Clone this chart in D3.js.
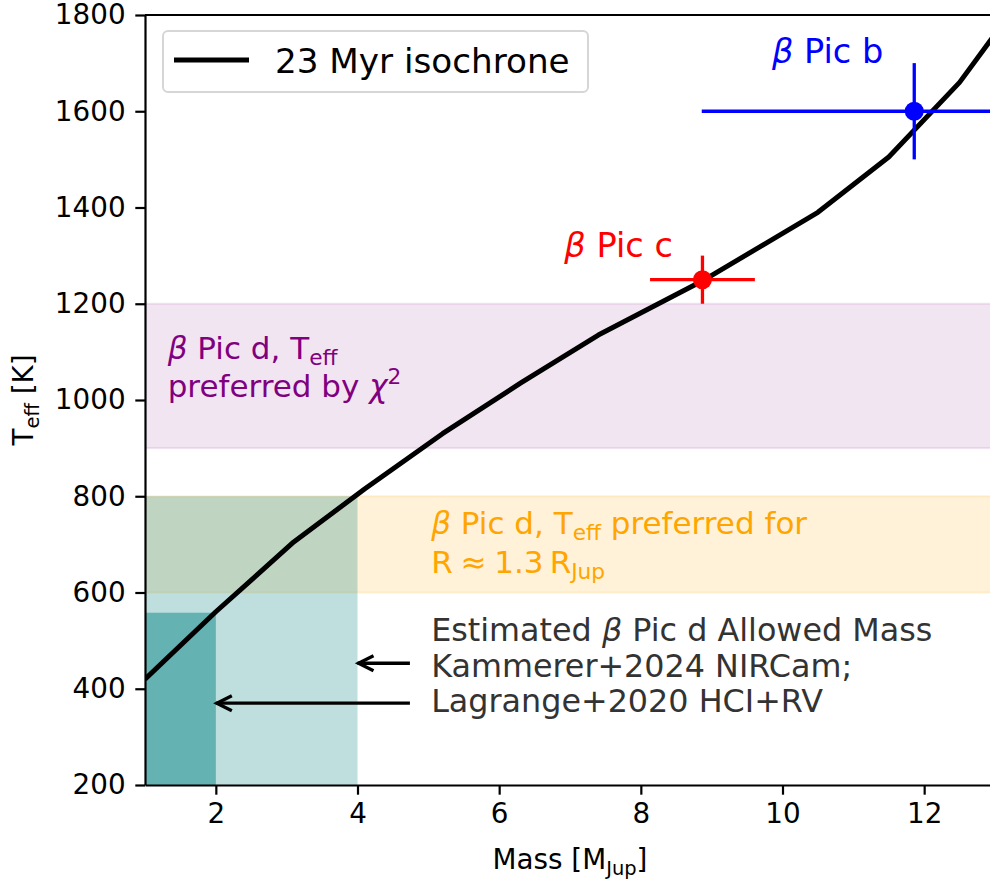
<!DOCTYPE html>
<html>
<head>
<meta charset="utf-8">
<script src="https://cdn.jsdelivr.net/npm/d3@7"></script>
<style>
  body { margin: 0; background: #fff; }
  svg { display: block; font-family: "DejaVu Sans", sans-serif; }
  text { white-space: pre; }
</style>
</head>
<body>
<script>
// 23 Myr isochrone
let isoMass = [1.0, 2.0, 3.1, 4.1, 5.2, 6.3, 7.4, 8.9, 10.5, 11.5, 12.5, 13.0];
let isoTeff = [420, 560, 705, 815, 930, 1035, 1135, 1250, 1390, 1505, 1660, 1760];

// planets
let planetNames = ['c', 'b'];
let planetMass = [8.87, 11.86];
let planetMassErr = [0.74, 3.0];
let planetTeff = [1250, 1600];
let planetTeffErr = [50, 100];
let planetColors = ['red', 'blue'];

// Teff bands for beta Pic d
let chi2Band = [900, 1200];
let radiusBand = [600, 800];

// allowed mass boxes: [upper mass, upper Teff]
let boxNircam = [4, 800];
let boxHci = [2, 558];

let xTicks = [2, 4, 6, 8, 10, 12];
let yTicks = [200, 400, 600, 800, 1000, 1200, 1400, 1600, 1800];

let margin = {left: 145, top: 15, right: -5, bottom: 95};
let W = 990, H = 880;
let width = W - margin.left - margin.right;
let height = H - margin.top - margin.bottom;

let svg = d3.select('body').append('svg')
  .attr('width', W)
  .attr('height', H);

let x = d3.scaleLinear().domain([1, 13]).range([0, width]);
let y = d3.scaleLinear().domain([200, 1800]).range([height, 0]);

svg.append('clipPath').attr('id', 'plot')
  .append('rect').attr('width', width).attr('height', height);

let g = svg.append('g')
  .attr('transform', 'translate(' + margin.left + ',' + margin.top + ')');

let plot = g.append('g').attr('clip-path', 'url(#plot)');

// rich text helper: parts = [{t, it, sub, sup}]
function rich(sel, parts, fs) {
  let cur = 0;
  parts.forEach(p => {
    let shift = p.sub ? 0.2 * fs : p.sup ? -0.42 * fs : 0;
    sel.append('tspan')
      .attr('dy', shift - cur)
      .attr('font-size', (p.sub || p.sup) ? fs * 0.7 : fs)
      .attr('font-style', p.it ? 'italic' : 'normal')
      .text(p.t);
    cur = shift;
  });
  return sel;
}

// bands
function band(r, col, op) {
  plot.append('rect')
    .attr('x', 0).attr('width', width)
    .attr('y', y(r[1])).attr('height', y(r[0]) - y(r[1]))
    .attr('fill', col).attr('fill-opacity', op)
    .attr('stroke', col).attr('stroke-opacity', op).attr('stroke-width', 2);
}
band(chi2Band, 'purple', 0.1);
band(radiusBand, 'orange', 0.15);

// allowed mass boxes
plot.append('rect')
  .attr('x', x(1)).attr('width', x(boxNircam[0]) - x(1))
  .attr('y', y(boxNircam[1])).attr('height', y(200) - y(boxNircam[1]))
  .attr('fill', 'teal').attr('fill-opacity', 0.25);
plot.append('rect')
  .attr('x', x(1)).attr('width', x(boxHci[0]) - x(1))
  .attr('y', y(boxHci[1])).attr('height', y(200) - y(boxHci[1]))
  .attr('fill', 'teal').attr('fill-opacity', 0.47);

// isochrone
let line = d3.line()
  .x(d => x(d[0]))
  .y(d => y(d[1]));

plot.append('path')
  .attr('d', line(d3.zip(isoMass, isoTeff)))
  .attr('fill', 'none')
  .attr('stroke', '#000')
  .attr('stroke-width', 5)
  .attr('stroke-linejoin', 'round');

// planets with error bars
planetNames.forEach((n, i) => {
  let c = planetColors[i];
  let px = planetMass[i], py = planetTeff[i];
  plot.append('line')
    .attr('x1', x(px - planetMassErr[i])).attr('x2', x(px + planetMassErr[i]))
    .attr('y1', y(py)).attr('y2', y(py))
    .attr('stroke', c).attr('stroke-width', 3.3);
  plot.append('line')
    .attr('x1', x(px)).attr('x2', x(px))
    .attr('y1', y(py - planetTeffErr[i])).attr('y2', y(py + planetTeffErr[i]))
    .attr('stroke', c).attr('stroke-width', 3.3);
  plot.append('circle')
    .attr('cx', x(px)).attr('cy', y(py)).attr('r', 9.5)
    .attr('fill', c);
});

// planet labels
let fsBig = 33.6, fsAnn = 31, fsTick = 27.8;
rich(g.append('text').attr('x', x(6.92)).attr('y', y(1298)).attr('fill', 'red'),
  [{t: 'β', it: true}, {t: ' Pic c'}], fsBig);
rich(g.append('text').attr('x', x(9.85)).attr('y', y(1700)).attr('fill', 'blue'),
  [{t: 'β', it: true}, {t: ' Pic b'}], fsBig);

// band labels
rich(g.append('text').attr('x', x(1.32)).attr('y', y(1085)).attr('fill', 'purple'),
  [{t: 'β', it: true}, {t: ' Pic d, T'}, {t: 'eff', sub: true}], fsAnn);
rich(g.append('text').attr('x', x(1.32)).attr('y', y(1007)).attr('fill', 'purple'),
  [{t: 'preferred by '}, {t: 'χ', it: true}, {t: '2', sup: true}], fsAnn);
rich(g.append('text').attr('x', x(5.04)).attr('y', y(722)).attr('fill', 'orange'),
  [{t: 'β', it: true}, {t: ' Pic d, T'}, {t: 'eff', sub: true}, {t: ' preferred for'}], fsAnn);
rich(g.append('text').attr('x', x(5.04)).attr('y', y(641)).attr('fill', 'orange'),
  [{t: 'R\u2005≈\u20051.3\u2009R'}, {t: 'Jup', sub: true}], fsAnn);

// allowed mass annotation
let annY = [499, 424, 352];
rich(g.append('text').attr('x', x(5.04)).attr('y', y(annY[0])).attr('fill', '#333'),
  [{t: 'Estimated '}, {t: 'β', it: true}, {t: ' Pic d Allowed Mass'}], fsAnn + 0.8);
g.append('text').attr('x', x(5.04)).attr('y', y(annY[1])).attr('fill', '#333')
  .attr('font-size', fsAnn + 0.8).text('Kammerer+2024 NIRCam;');
g.append('text').attr('x', x(5.04)).attr('y', y(annY[2])).attr('fill', '#333')
  .attr('font-size', fsAnn + 0.8).text('Lagrange+2020 HCI+RV');

// arrows
function arrow(x0, x1, yv) {
  let ya = y(yv), xa = x(x1);
  g.append('line')
    .attr('x1', x(x0)).attr('x2', xa).attr('y1', ya).attr('y2', ya)
    .attr('stroke', '#000').attr('stroke-width', 3.3);
  g.append('path')
    .attr('d', 'M' + (xa + 16) + ',' + (ya - 7.5) + 'L' + (xa + 1) + ',' + ya + 'L' + (xa + 16) + ',' + (ya + 7.5))
    .attr('fill', 'none').attr('stroke', '#000').attr('stroke-width', 3.3);
}
arrow(4.74, boxNircam[0], 453);
arrow(4.74, boxHci[0], 370);

// axes
let xAxis = g.append('g')
  .attr('transform', 'translate(0,' + height + ')')
  .call(d3.axisBottom(x).tickValues(xTicks).tickFormat(d3.format('d'))
    .tickSize(9.7).tickPadding(9).tickSizeOuter(0));
let yAxis = g.append('g')
  .call(d3.axisLeft(y).tickValues(yTicks).tickFormat(d3.format('d'))
    .tickSize(9.7).tickPadding(9.7).tickSizeOuter(0));
[xAxis, yAxis].forEach(a => {
  a.selectAll('path, line').attr('stroke', '#000').attr('stroke-width', 2.2);
  a.selectAll('text').attr('font-size', fsTick).attr('fill', '#000')
    .attr('font-family', '"DejaVu Sans", sans-serif');
});
g.append('line').attr('x1', 0).attr('x2', width).attr('y1', 0).attr('y2', 0)
  .attr('stroke', '#000').attr('stroke-width', 2.2);
g.append('line').attr('x1', width).attr('x2', width).attr('y1', 0).attr('y2', height)
  .attr('stroke', '#000').attr('stroke-width', 2.2);

// axis labels
rich(svg.append('text').attr('x', margin.left + x(7)).attr('y', 869)
  .attr('text-anchor', 'middle').attr('fill', '#000'),
  [{t: 'Mass [M'}, {t: 'Jup', sub: true}, {t: ']'}], fsTick);
rich(svg.append('text')
  .attr('transform', 'translate(33,' + (margin.top + height / 2) + ') rotate(-90)')
  .attr('text-anchor', 'middle').attr('fill', '#000'),
  [{t: 'T'}, {t: 'eff', sub: true}, {t: ' [K]'}], fsTick);

// legend
let leg = g.append('g').attr('transform', 'translate(' + (163 - margin.left) + ',' + (31 - margin.top) + ')');
leg.append('rect')
  .attr('width', 425).attr('height', 61).attr('rx', 5)
  .attr('fill', '#fff').attr('fill-opacity', 0.8)
  .attr('stroke', '#d6d6d6').attr('stroke-width', 2);
leg.append('line')
  .attr('x1', 11).attr('x2', 86).attr('y1', 29).attr('y2', 29)
  .attr('stroke', '#000').attr('stroke-width', 5);
leg.append('text').attr('x', 112).attr('y', 42)
  .attr('font-size', fsBig + 0.6).attr('fill', '#000').text('23 Myr isochrone');
</script>
</body>
</html>
